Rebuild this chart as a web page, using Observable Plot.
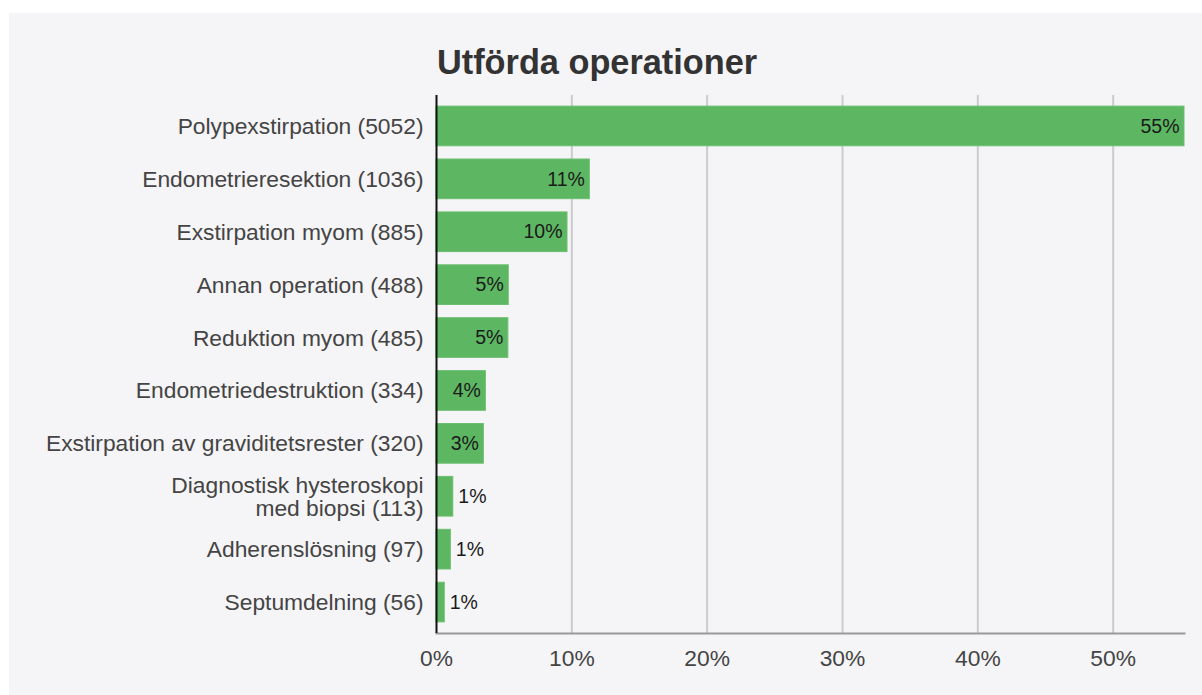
<!DOCTYPE html>
<html>
<head>
<meta charset="utf-8">
<script src="https://cdn.jsdelivr.net/npm/d3@7"></script>
<script src="https://cdn.jsdelivr.net/npm/@observablehq/plot@0.6"></script>
<style>
  html, body { margin: 0; padding: 0; background: #ffffff; }
  #wrap { position: relative; width: 1202px; height: 695px; overflow: hidden; background: #ffffff; }
  #panel { position: absolute; left: 9px; top: 13px; right: 0; bottom: 0; background: #f5f4f7; }
  #title { position: absolute; left: 437px; top: 45px; font: bold 34.3px/34px "Liberation Sans", Arial, sans-serif; color: #333333; white-space: nowrap; }
  #chart { position: absolute; left: 0; top: 0; }
</style>
</head>
<body>
<div id="wrap">
  <div id="panel"></div>
  <div id="title">Utförda operationer</div>
  <div id="chart"></div>
</div>
<script>
const categories = [
  "Polypexstirpation (5052)",
  "Endometrieresektion (1036)",
  "Exstirpation myom (885)",
  "Annan operation (488)",
  "Reduktion myom (485)",
  "Endometriedestruktion (334)",
  "Exstirpation av graviditetsrester (320)",
  "Diagnostisk hysteroskopi\nmed biopsi (113)",
  "Adherenslösning (97)",
  "Septumdelning (56)"
];
const percents = [55.27, 11.33, 9.68, 5.34, 5.31, 3.65, 3.50, 1.24, 1.06, 0.61];
const valueLabels = ["55%", "11%", "10%", "5%", "5%", "4%", "3%", "1%", "1%", "1%"];
const xTicks = [0, 10, 20, 30, 40, 50];
const xTickLabels = ["0%", "10%", "20%", "30%", "40%", "50%"];

const data = categories.map((c, i) => ({cat: c, pct: percents[i], label: valueLabels[i]}));

const chart = Plot.plot({
  width: 1202,
  height: 695,
  marginLeft: 436,
  marginRight: 18,
  marginTop: 95,
  marginBottom: 62,
  style: {fontFamily: "'Liberation Sans', Arial, sans-serif", fontSize: "22.8px", background: "transparent", color: "#444444"},
  x: {domain: [0, 55.27], ticks: xTicks, tickFormat: (d) => xTickLabels[xTicks.indexOf(d)]},
  y: {domain: categories, paddingInner: 0.25, paddingOuter: 0.21, round: false},
  marks: [
    Plot.gridX(xTicks.slice(1), {stroke: "#cccccc", strokeWidth: 2, strokeOpacity: 1}),
    Plot.barX(data, {x: "pct", y: "cat", fill: "#5db662", stroke: "#6cbf70", strokeWidth: 1}),
    Plot.text(data.filter(d => d.pct > 2), {x: "pct", y: "cat", text: "label", textAnchor: "end", dx: -5, fill: "#1a1a1a", fontSize: 19.5}),
    Plot.text(data.filter(d => d.pct <= 2), {x: "pct", y: "cat", text: "label", textAnchor: "start", dx: 5, fill: "#1a1a1a", fontSize: 19.5}),
    Plot.frame({anchor: "bottom", stroke: "#999999", strokeWidth: 2}),
    Plot.ruleX([0], {stroke: "#111111", strokeWidth: 2}),
    Plot.axisY({tickSize: 0, tickPadding: 13, fontSize: 22.8, lineHeight: 1.03, fill: "#444444", label: null}),
    Plot.axisX({ticks: xTicks, tickFormat: (d) => xTickLabels[xTicks.indexOf(d)], tickSize: 0, tickPadding: 16, fontSize: 22.8, fill: "#444444", label: null})
  ]
});
document.getElementById("chart").appendChild(chart);
</script>
</body>
</html>
